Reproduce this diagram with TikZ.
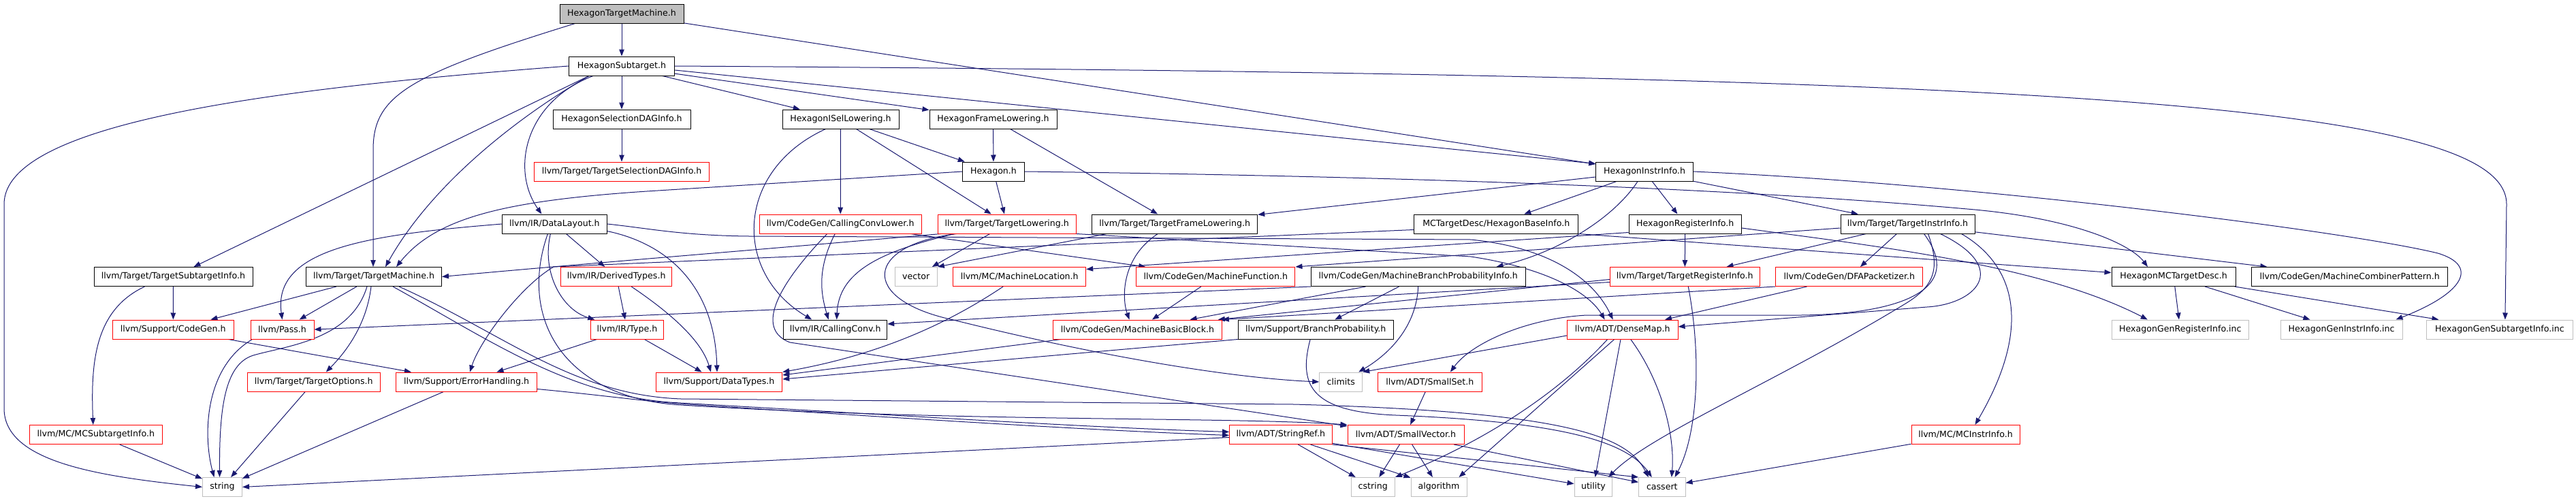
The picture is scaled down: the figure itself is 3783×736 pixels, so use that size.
\documentclass[tikz,border=0pt]{standalone}
\usepackage{fontspec}
\setmainfont{DejaVu Sans}
\usetikzlibrary{arrows.meta,calc,backgrounds}
\definecolor{edgec}{HTML}{191970}
\definecolor{greyb}{HTML}{BFBFBF}
\definecolor{redb}{HTML}{FF0000}
\begin{document}
\begin{tikzpicture}[x=1pt,y=-1pt,
  nd/.style={draw, fill=white, line width=1pt, minimum height=28pt, inner sep=0pt, font=\fontsize{12.6}{15}\selectfont, text=black},
  bk/.style={nd, draw=black},
  rd/.style={nd, draw=redb},
  gy/.style={nd, draw=greyb},
  rt/.style={nd, draw=black, fill=greyb},
  arr/.style={draw=edgec, line width=1pt, line join=round, -{Triangle[length=10pt,width=7.5pt]}}]
\useasboundingbox (0,0) rectangle (3783,736);
% nodes
\node[rt, minimum width=182pt] (tm) at (913,20) {HexagonTargetMachine.h};
\node[bk, minimum width=155pt] (st) at (913,97) {HexagonSubtarget.h};
\node[bk, minimum width=202pt] (seldag) at (913,175) {HexagonSelectionDAGInfo.h};
\node[bk, minimum width=171pt] (isel) at (1234.5,175) {HexagonISelLowering.h};
\node[bk, minimum width=187pt] (frame) at (1458.5,175) {HexagonFrameLowering.h};
\node[rd, minimum width=256.5pt] (tsdag) at (913,252) {llvm/Target/TargetSelectionDAGInfo.h};
\node[bk, minimum width=90.5pt] (hex) at (1459,252) {Hexagon.h};
\node[bk, minimum width=142.5pt] (instr) at (2415,252) {HexagonInstrInfo.h};
\node[bk, minimum width=153.3pt] (dl) at (814.4,329) {llvm/IR/DataLayout.h};
\node[rd, minimum width=238pt] (ccl) at (1234.2,329) {llvm/CodeGen/CallingConvLower.h};
\node[rd, minimum width=203.3pt] (tl) at (1478.7,329) {llvm/Target/TargetLowering.h};
\node[bk, minimum width=243pt] (tfl) at (1725.2,329) {llvm/Target/TargetFrameLowering.h};
\node[bk, minimum width=241.3pt] (base) at (2197.3,329) {MCTargetDesc/HexagonBaseInfo.h};
\node[bk, minimum width=165.3pt] (reg) at (2474.7,329) {HexagonRegisterInfo.h};
\node[bk, minimum width=197pt] (tii) at (2801.5,329) {llvm/Target/TargetInstrInfo.h};
\node[bk, minimum width=233pt] (tsi) at (254.5,406.5) {llvm/Target/TargetSubtargetInfo.h};
\node[bk, minimum width=199pt] (tmach) at (549,406.5) {llvm/Target/TargetMachine.h};
\node[rd, minimum width=163pt] (dt) at (905.2,406.5) {llvm/IR/DerivedTypes.h};
\node[gy, minimum width=62.3pt] (vec) at (1345.2,406.5) {vector};
\node[rd, minimum width=195pt] (mloc) at (1497.2,406.5) {llvm/MC/MachineLocation.h};
\node[rd, minimum width=233.3pt] (mf) at (1785.3,406.5) {llvm/CodeGen/MachineFunction.h};
\node[bk, minimum width=314.7pt] (mbpi) at (2082.7,406.5) {llvm/CodeGen/MachineBranchProbabilityInfo.h};
\node[rd, minimum width=220pt] (tri) at (2474.3,406.5) {llvm/Target/TargetRegisterInfo.h};
\node[rd, minimum width=216.3pt] (dfa) at (2715.8,406.5) {llvm/CodeGen/DFAPacketizer.h};
\node[bk, minimum width=182pt] (mcdesc) at (3192,406.5) {HexagonMCTargetDesc.h};
\node[bk, minimum width=287.8pt] (mcp) at (3450.7,406.5) {llvm/CodeGen/MachineCombinerPattern.h};
\node[rd, minimum width=178.5pt] (cg) at (254.3,484) {llvm/Support/CodeGen.h};
\node[rd, minimum width=93pt] (pass) at (414.5,484) {llvm/Pass.h};
\node[rd, minimum width=106.6pt] (type) at (921,484) {llvm/IR/Type.h};
\node[bk, minimum width=152pt] (cc) at (1226.7,484) {llvm/IR/CallingConv.h};
\node[rd, minimum width=247.6pt] (mbb) at (1670.5,484) {llvm/CodeGen/MachineBasicBlock.h};
\node[bk, minimum width=227.7pt] (bp) at (1932.2,484) {llvm/Support/BranchProbability.h};
\node[rd, minimum width=162.7pt] (dm) at (2382.7,484) {llvm/ADT/DenseMap.h};
\node[gy, minimum width=201.5pt] (genreg) at (3201.8,484) {HexagonGenRegisterInfo.inc};
\node[gy, minimum width=179pt] (geninstr) at (3438.5,484) {HexagonGenInstrInfo.inc};
\node[gy, minimum width=214.3pt] (gensub) at (3670.9,484) {HexagonGenSubtargetInfo.inc};
\node[rd, minimum width=194.5pt] (topt) at (460.8,561) {llvm/Target/TargetOptions.h};
\node[rd, minimum width=206.7pt] (eh) at (685,561) {llvm/Support/ErrorHandling.h};
\node[rd, minimum width=185.4pt] (dty) at (1056,561) {llvm/Support/DataTypes.h};
\node[gy, minimum width=63pt] (climits) at (1969.2,561) {climits};
\node[rd, minimum width=152.3pt] (sset) at (2099.9,561) {llvm/ADT/SmallSet.h};
\node[rd, minimum width=194.4pt] (mcsti) at (140.8,638.5) {llvm/MC/MCSubtargetInfo.h};
\node[rd, minimum width=150.5pt] (sref) at (1880.8,638.5) {llvm/ADT/StringRef.h};
\node[rd, minimum width=171pt] (svec) at (2064.5,638.5) {llvm/ADT/SmallVector.h};
\node[rd, minimum width=159pt] (mcii) at (2886.5,638.5) {llvm/MC/MCInstrInfo.h};
\node[gy, minimum width=58pt] (string) at (326.5,715.5) {string};
\node[gy, minimum width=64.4pt] (cstring) at (2016.2,715.5) {cstring};
\node[gy, minimum width=82pt] (algo) at (2113,715.5) {algorithm};
\node[gy, minimum width=55.7pt] (util) at (2339.9,715.5) {utility};
\node[gy, minimum width=68.5pt] (cassert) at (2440.8,715.5) {cassert};
\begin{scope}[on background layer]
% root
\draw[arr] (tm) -- (st);
\draw[arr] ($(tm.south west)+(23,0)$) .. controls (600,110) and (548,140) .. (548,220) -- ($(tmach.north)+(-1,0)$);
\draw[arr] (tm) -- (instr);
% subtarget
\draw[arr] (st.west) .. controls (400,130) and (6,180) .. (6,300) -- (6,600) .. controls (6,680) and (150,700) .. (string.west);
\draw[arr] ($(st.south west)+(30,0)$) -- ($(tsi.north)+(30,0)$);
\draw[arr] ($(st.south west)+(30,0)$) .. controls (780,160) and (640,260) .. ($(tmach.north)+(17,0)$);
\draw[arr] (st) -- (seldag);
\draw[arr] (st) -- (isel);
\draw[arr] (st) -- (frame);
\draw[arr] ($(st.east)+(0,6)$) -- ($(instr.north west)+(0,3)$);
\draw[arr] ($(st.south west)+(36,0)$) .. controls (770,150) and (750,250) .. ($(dl.north)+(-19,0)$);
\draw[arr] (st.east) .. controls (3000,110) and (3681,150) .. (3681,300) -- ($(gensub.north)+(8,0)$);
% row 2
\draw[arr] (seldag) -- (tsdag);
\draw[arr] (isel) -- (hex);
\draw[arr] (isel) -- (ccl);
\draw[arr] (isel) -- (tl);
\draw[arr] ($(isel.south west)+(64,0)$) .. controls (1080,250) and (1075,400) .. ($(cc.north west)+(42,0)$);
\draw[arr] (frame) -- (hex);
\draw[arr] (frame) -- (tfl);
% row 3
\draw[arr] (hex) -- (tl);
\draw[arr] (hex.west) -- (950,281) .. controls (740,295) and (640,320) .. ($(tmach.north)+(33,0)$);
\draw[arr] (hex.east) .. controls (2300,262) and (2700,290) .. (2900,308) .. controls (3050,322) and (3130,360) .. ($(mcdesc.north)+(-38,0)$);
\draw[arr] (instr) -- (base);
\draw[arr] (instr) -- (reg);
\draw[arr] (instr) -- (tii);
\draw[arr] (instr) -- (tfl);
\draw[arr] ($(instr.south)+(-10,0)$) .. controls (2370,320) and (2290,370) .. ($(mbpi.north east)+(-43,0)$);
\draw[arr] (instr.east) .. controls (2900,270) and (3450,340) .. (3580,372) .. controls (3640,390) and (3620,430) .. ($(geninstr.north east)+(-10,0)$);
% row 4
\draw[arr] (dl.west) .. controls (540,345) and (400,365) .. (pass.north);
\draw[arr] (dl) -- (dt);
\draw[arr] ($(dl.south)+(-6,0)$) .. controls (795,400) and (825,455) .. ($(type.north west)+(6,0)$);
\draw[arr] ($(dl.south east)+(0,-4)$) .. controls (990,360) and (1050,430) .. ($(dty.north)+(-3,0)$);
\draw[arr] (dl.east) .. controls (950,335) and (1000,346) .. (1100,347) -- (2160,352) .. controls (2290,365) and (2345,420) .. ($(dm.north)+(-14,0)$);
\draw[arr] ($(dl.south)+(-10,0)$) .. controls (760,470) and (830,585) .. (1000,595) .. controls (1400,620) and (1800,612) .. (svec.north west);
\draw[arr] ($(ccl.south)+(-8,0)$) .. controls (1200,395) and (1205,430) .. ($(cc.north)+(-10,0)$);
\draw[arr] (ccl) -- (mf);
\draw[arr] ($(ccl.south west)+(100,0)$) .. controls (1160,400) and (1100,480) .. (1160,503) -- ($(svec.north west)+(0,2)$);
\draw[arr] ($(tl.south west)+(5,0)$) .. controls (1100,368) and (850,388) .. (tmach.east);
\draw[arr] ($(tl.south west)+(25,0)$) .. controls (1290,370) and (1232,400) .. ($(cc.north)+(2,0)$);
\draw[arr] ($(tl.south)+(-25,0)$) -- ($(vec.north east)+(-8,0)$);
\draw[arr] ($(tl.south west)+(28,0)$) .. controls (1270,360) and (1260,440) .. (1400,470) .. controls (1600,520) and (1800,555) .. (climits.west);
\draw[arr] (tl.south east) -- (2160,377) .. controls (2260,392) and (2330,425) .. ($(dm.north)+(-26,0)$);
\draw[arr] ($(tfl.south)+(-25,0)$) .. controls (1645,380) and (1648,440) .. ($(mbb.north)+(-12,0)$);
\draw[arr] ($(tfl.south west)+(22,0)$) -- (vec.north east);
\draw[arr] (base.south east) -- ($(mcdesc.west)+(0,-6)$);
\draw[arr] ($(base.south west)+(0,-6)$) -- (813,392) .. controls (765,420) and (705,500) .. ($(eh.north)+(5,0)$);
\draw[arr] (reg) -- (tri);
\draw[arr] ($(reg.south west)+(0,-2)$) -- ($(mloc.east)+(0,-11)$);
\draw[arr] ($(reg.east)+(0,6)$) .. controls (2760,362) and (3000,390) .. ($(genreg.north)+(-48,0)$);
\draw[arr] ($(tii.west)+(0,6)$) -- (mf.north east);
\draw[arr] (tii) -- (tri);
\draw[arr] (tii) -- (dfa);
\draw[arr] (tii) -- (mcp);
\draw[arr] ($(tii.south east)+(-20,0)$) .. controls (2960,390) and (2985,480) .. ($(mcii.north)+(14,0)$);
\draw[arr] ($(tii.south)+(48,0)$) .. controls (2955,395) and (2900,447) .. (2830,451) -- ($(dm.east)+(0,-4)$);
\draw[arr] ($(tii.south)+(24,0)$) .. controls (2890,430) and (2780,465) .. (2620,463) -- (2330,463) .. controls (2240,468) and (2160,505) .. ($(sset.north)+(30,0)$);
\draw[arr] ($(tii.south)+(30,0)$) .. controls (2850,395) and (2840,420) .. (2800,445) .. controls (2620,555) and (2420,640) .. ($(util.north east)+(-6,0)$);
\draw[arr] (mcdesc) -- (genreg);
\draw[arr] (mcdesc) -- (geninstr);
\draw[arr] (mcdesc) -- (gensub);
% row 5
\draw[arr] (tsi) -- (cg);
\draw[arr] ($(tsi.south)+(-42,0)$) .. controls (140,455) and (133,530) .. ($(mcsti.north)+(-4,0)$);
\draw[arr] (tmach) -- (cg);
\draw[arr] (tmach) -- (pass);
\draw[arr] ($(tmach.south)+(-10,0)$) .. controls (515,500) and (420,508) .. (372,522) .. controls (330,535) and (322,600) .. ($(string.north)+(-4,0)$);
\draw[arr] ($(tmach.south)+(-4,0)$) .. controls (538,480) and (505,520) .. ($(topt.north)+(18,0)$);
\draw[arr] ($(tmach.south east)+(-72,0)$) .. controls (720,500) and (840,585) .. (1000,592) .. controls (1350,612) and (1600,628) .. ($(sref.west)+(0,-4)$);
\draw[arr] ($(tmach.south east)+(-63,0)$) .. controls (740,490) and (840,580) .. (1000,586) -- (1900,594) .. controls (2300,605) and (2390,640) .. ($(cassert.north)+(-20,0)$);
\draw[arr] (dt) -- (type);
\draw[arr] ($(dt.south)+(22,0)$) .. controls (985,460) and (1030,500) .. ($(dty.north)+(-12,0)$);
\draw[arr] ($(mloc.south)+(-24,0)$) .. controls (1400,470) and (1300,520) .. (dty.north east);
\draw[arr] (mf) -- (mbb);
\draw[arr] (mbpi.south west) -- (pass.east);
\draw[arr] (mbpi) -- (mbb);
\draw[arr] (mbpi) -- (bp);
\draw[arr] (mbpi.south) .. controls (2080,480) and (2040,520) .. ($(climits.north east)+(-6,0)$);
\draw[arr] ($(tri.south)+(5,0)$) .. controls (2500,530) and (2492,640) .. ($(cassert.north east)+(-16,0)$);
\draw[arr] ($(tri.west)+(0,8)$) -- ($(cc.east)+(0,-8)$);
\draw[arr] ($(tri.west)+(0,4)$) -- ($(mbb.north east)+(-6,0)$);
\draw[arr] (dfa) -- (dm);
\draw[arr] (dfa.south west) -- (mbb.north east);
% row 6
\draw[arr] (cg) -- (eh);
\draw[arr] ($(pass.south west)+(3,0)$) .. controls (300,540) and (298,640) .. ($(string.north)+(-12,0)$);
\draw[arr] ($(mbb.south west)+(12,0)$) -- ($(dty.east)+(0,-10)$);
\draw[arr] (bp.south west) -- ($(dty.east)+(0,-4)$);
\draw[arr] ($(bp.south)+(-8,0)$) .. controls (1905,570) and (1930,605) .. (2050,610) .. controls (2300,620) and (2390,650) .. ($(cassert.north)+(-15,0)$);
\draw[arr] (type) -- (eh);
\draw[arr] (type) -- (dty);
\draw[arr] ($(dm.south)+(-22,0)$) .. controls (2300,565) and (2200,640) .. (cstring.north east);
\draw[arr] ($(dm.south)+(-12,0)$) -- ($(algo.north east)+(-12,0)$);
\draw[arr] (dm) -- (util);
\draw[arr] ($(dm.south)+(12,0)$) .. controls (2440,560) and (2460,640) .. ($(cassert.north)+(14,0)$);
\draw[arr] ($(dm.west)+(0,9)$) -- (climits.north east);
% row 7
\draw[arr] (topt) -- (string);
\draw[arr] (eh) -- (string);
\draw[arr] ($(eh.south east)+(0,-4)$) .. controls (880,580) and (950,590) .. (1010,594) .. controls (1350,616) and (1600,632) .. ($(sref.west)+(0,1)$);
\draw[arr] (sset) -- (svec);
% row 8
\draw[arr] (mcsti) -- (string);
\draw[arr] ($(sref.west)+(0,4)$) -- (string.east);
\draw[arr] (sref) -- (cstring);
\draw[arr] (sref) -- (algo);
\draw[arr] (sref) -- (util);
\draw[arr] (sref.south east) -- (cassert.north west);
\draw[arr] (svec) -- (cstring);
\draw[arr] (svec) -- (algo);
\draw[arr] (svec) -- (cassert);
\draw[arr] (mcii) -- (cassert);
\end{scope}
\end{tikzpicture}
\end{document}
